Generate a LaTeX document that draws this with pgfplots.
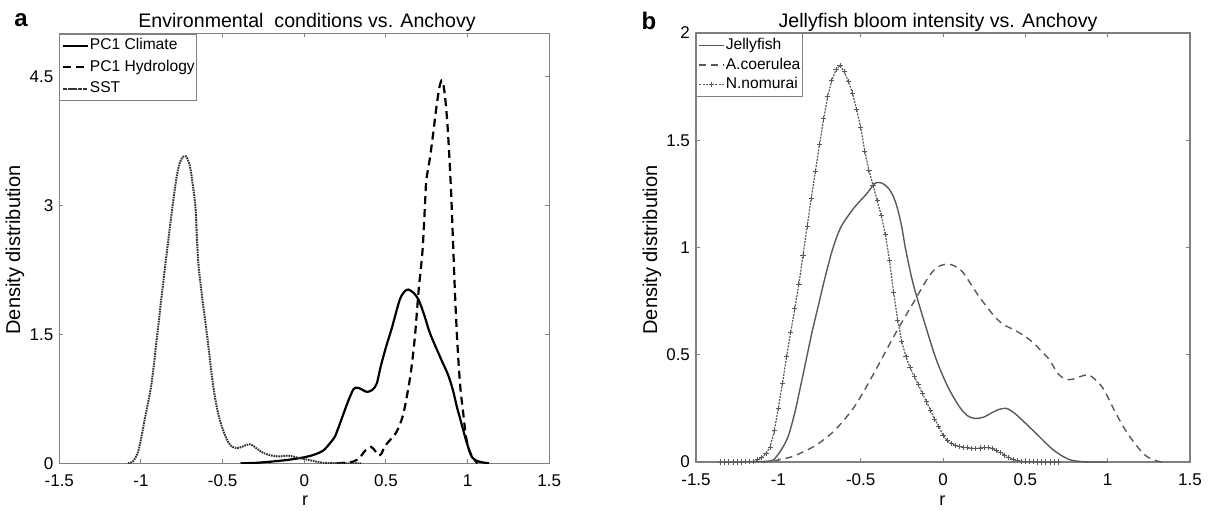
\documentclass[border=0pt]{standalone}
\usepackage{fontspec}
\setmainfont{Liberation Sans}
\usepackage{pgfplots}
\pgfplotsset{compat=1.18}

\definecolor{axgray}{gray}{0.5}
\definecolor{curvegray}{gray}{0.35}

\pgfplotsset{
  myaxis/.style={
    scale only axis,
    xmin=-1.5, xmax=1.5, ymin=0,
    xtick={-1.5,-1,-0.5,0,0.5,1,1.5},
    tick align=inside,
    major tick length=2pt,
    axis line style={axgray, line width=0.6pt},
    every tick/.style={axgray, line width=0.5pt},
    tick label style={font=\fontsize{8.5}{10}\selectfont},
    /pgf/number format/assume math mode=true,
    xticklabel style={anchor=base, yshift=-11.7pt},
    yticklabel style={xshift=0.5pt},
    scaled ticks=false,
    legend cell align=left,
    legend image code/.code={\draw[mark repeat=2, mark phase=2, #1] plot coordinates {(0pt,0pt) (6.2pt,0pt) (12.4pt,0pt)};},
  },
}

\begin{document}
\begin{tikzpicture}
\useasboundingbox (0,0) rectangle (606.5pt,255pt);

% ---------------- panel a ----------------
\begin{axis}[myaxis,
  at={(29.65pt,23.35pt)}, anchor=south west,
  width=245pt, height=215pt,
  ymax=5, ytick={0,1.5,3,4.5},
  legend style={at={(0,1)}, anchor=north west, draw=axgray, line width=0.6pt,
    font=\fontsize{7.8}{9}\selectfont, inner xsep=1pt, inner ysep=2pt, row sep=2.9pt,
    column sep=0.5pt,
    nodes={inner sep=0pt, text height=6pt, text depth=1.8pt}},
]
\addplot[black, line width=1.1pt, smooth] coordinates {
(-0.39,0) (-0.3,0.005) (-0.2,0.02) (-0.1,0.04) (0,0.07) (0.06,0.1) (0.117,0.15)
(0.16,0.24) (0.187,0.31) (0.21,0.42) (0.233,0.54) (0.27,0.73) (0.30,0.86) (0.314,0.88)
(0.34,0.87) (0.385,0.83) (0.42,0.86) (0.444,0.93) (0.467,1.12) (0.50,1.35) (0.537,1.58)
(0.584,1.9) (0.615,2.0) (0.638,2.02) (0.67,1.98) (0.70,1.9) (0.735,1.72) (0.77,1.51)
(0.84,1.2) (0.88,1.03) (0.91,0.85) (0.935,0.65) (0.957,0.5) (0.99,0.27) (1.027,0.07)
(1.07,0.02) (1.13,0)};
\addlegendentry{PC1 Climate}
\addplot[black, line width=1.1pt, dash pattern=on 4pt off 2.5pt, smooth] coordinates {
(0.2,0) (0.3,0.02) (0.34,0.07) (0.374,0.15) (0.41,0.19) (0.435,0.14) (0.457,0.09)
(0.475,0.12) (0.49,0.19) (0.52,0.26) (0.56,0.35) (0.585,0.45) (0.607,0.58) (0.63,0.8)
(0.654,1.08) (0.677,1.47) (0.70,2.01) (0.724,2.48) (0.74,3.05) (0.747,3.29) (0.77,3.56)
(0.79,3.85) (0.806,4.1) (0.825,4.35) (0.84,4.45) (0.852,4.4) (0.864,4.22) (0.876,3.95)
(0.887,3.6) (0.90,3.1) (0.91,2.6) (0.922,2.0) (0.934,1.51) (0.945,1.15) (0.957,0.85)
(0.975,0.55) (0.99,0.31) (1.01,0.15) (1.03,0.07) (1.06,0)};
\addlegendentry{PC1 Hydrology}
\addplot[black!80, line width=1pt, dash pattern=on 0.8pt off 0.45pt, smooth] coordinates {
(-1.08,0) (-1.05,0.02) (-1.02,0.12) (-1.0,0.28) (-0.97,0.58) (-0.935,0.93) (-0.9,1.5)
(-0.87,2.0) (-0.84,2.48) (-0.806,3.0) (-0.78,3.35) (-0.755,3.53) (-0.725,3.57)
(-0.70,3.45) (-0.68,3.2) (-0.665,2.95) (-0.657,2.6) (-0.645,2.25) (-0.62,1.85)
(-0.596,1.5) (-0.56,0.93) (-0.53,0.6) (-0.5,0.4) (-0.467,0.25) (-0.44,0.19) (-0.40,0.18)
(-0.36,0.21) (-0.327,0.22) (-0.29,0.17) (-0.25,0.12) (-0.2,0.09) (-0.15,0.08) (-0.1,0.09)
(-0.05,0.07) (0,0.05) (0.05,0.03) (0.1,0.01) (0.15,0.002) (0.25,0) (0.35,0)};
\addlegendentry{SST}
\end{axis}

% ---------------- panel b ----------------
\begin{axis}[myaxis,
  at={(348pt,24pt)}, anchor=south west,
  width=247pt, height=214.5pt,
  ymax=2, ytick={0,0.5,1,1.5,2},
  legend style={at={(0,1)}, anchor=north west, draw=axgray, line width=0.6pt,
    font=\fontsize{7.8}{9}\selectfont, inner xsep=1pt, inner ysep=2pt, row sep=2pt,
    column sep=0.5pt,
    nodes={inner sep=0pt, text height=6pt, text depth=1.8pt}},
]
\addplot[curvegray, line width=0.7pt, smooth] coordinates {
(-1.15,0) (-1.08,0.003) (-1.03,0.01) (-0.98,0.06) (-0.94,0.12) (-0.90,0.23) (-0.87,0.335)
(-0.83,0.48) (-0.797,0.60) (-0.76,0.72) (-0.726,0.83) (-0.679,0.97) (-0.64,1.06)
(-0.606,1.114) (-0.535,1.19) (-0.464,1.25) (-0.43,1.285) (-0.407,1.302) (-0.37,1.30)
(-0.33,1.275) (-0.30,1.235) (-0.276,1.18) (-0.25,1.095) (-0.229,1.0) (-0.182,0.833) (-0.111,0.647)
(-0.04,0.476) (0.03,0.35) (0.10,0.257) (0.15,0.215) (0.196,0.203) (0.25,0.21) (0.29,0.227)
(0.34,0.245) (0.385,0.25) (0.43,0.23) (0.48,0.196) (0.575,0.126) (0.67,0.056)
(0.765,0.012) (0.86,0.001) (1.0,0)};
\addlegendentry{Jellyfish}
\addplot[curvegray, line width=0.7pt, dash pattern=on 3.5pt off 2.5pt, smooth] coordinates {
(-1.1,0) (-1.03,0.005) (-0.95,0.018) (-0.889,0.033) (-0.77,0.079) (-0.656,0.149)
(-0.538,0.258) (-0.42,0.413) (-0.30,0.584) (-0.182,0.74) (-0.087,0.864) (-0.03,0.91)
(0.03,0.923) (0.08,0.91) (0.125,0.88) (0.22,0.77) (0.315,0.677) (0.37,0.64) (0.434,0.615)
(0.50,0.585) (0.552,0.553) (0.60,0.515) (0.647,0.476) (0.69,0.42) (0.718,0.398)
(0.75,0.385) (0.789,0.386) (0.84,0.40) (0.884,0.406) (0.93,0.38) (0.978,0.336)
(1.05,0.227) (1.12,0.134) (1.215,0.04) (1.28,0.01) (1.33,0)};
\addlegendentry{A.coerulea}
\addplot[curvegray, line width=0.6pt, dash pattern=on 1pt off 0.6pt, mark=+, mark size=1.3pt,
  mark options={solid, line width=0.45pt}] coordinates {
(-1.350,0) (-1.325,0) (-1.300,0) (-1.275,0) (-1.250,0) (-1.225,0) (-1.200,0.001)
(-1.175,0.002) (-1.150,0.004) (-1.125,0.01) (-1.100,0.02) (-1.075,0.04) (-1.050,0.07)
(-1.025,0.145) (-1.000,0.25) (-0.975,0.367) (-0.950,0.49) (-0.925,0.605) (-0.900,0.715)
(-0.875,0.83) (-0.850,0.965) (-0.825,1.10) (-0.800,1.23) (-0.775,1.355) (-0.750,1.48)
(-0.725,1.60) (-0.700,1.705) (-0.675,1.78) (-0.650,1.83) (-0.625,1.848) (-0.600,1.82)
(-0.575,1.775) (-0.550,1.72) (-0.525,1.645) (-0.500,1.56) (-0.475,1.45) (-0.450,1.36)
(-0.425,1.29) (-0.400,1.22) (-0.375,1.15) (-0.350,1.06) (-0.325,0.94) (-0.300,0.79)
(-0.275,0.66) (-0.250,0.56) (-0.225,0.49) (-0.200,0.44) (-0.175,0.40) (-0.150,0.36)
(-0.125,0.32) (-0.100,0.28) (-0.075,0.24) (-0.050,0.20) (-0.025,0.165) (0.000,0.125)
(0.025,0.10) (0.050,0.085) (0.075,0.077) (0.100,0.072) (0.125,0.069) (0.150,0.066)
(0.175,0.064) (0.200,0.064) (0.225,0.065) (0.250,0.066) (0.275,0.066) (0.300,0.062)
(0.325,0.053) (0.350,0.043) (0.375,0.032) (0.400,0.022) (0.425,0.012) (0.450,0.006)
(0.475,0.003) (0.500,0.002) (0.525,0.001) (0.550,0.001) (0.575,0) (0.600,0) (0.625,0)
(0.650,0) (0.675,0) (0.700,0)};
\addlegendentry{N.nomurai}
\end{axis}

% ---------------- texts ----------------
\node[font=\fontsize{9.8}{11}\selectfont] at (153.5pt,244pt) {Environmental\ \ conditions vs. Anchovy};
\node[font=\fontsize{9.8}{11}\selectfont] at (469pt,244pt) {Jellyfish bloom intensity vs. Anchovy};
\node[font=\bfseries\fontsize{12}{13}\selectfont] at (10.5pt,245pt) {a};
\node[font=\bfseries\fontsize{12}{13}\selectfont] at (324.5pt,244.5pt) {b};
\node[rotate=90, font=\fontsize{10}{12}\selectfont] at (7.5pt,130pt) {Density distribution};
\node[rotate=90, font=\fontsize{10}{12}\selectfont] at (326pt,130pt) {Density distribution};
\node[font=\fontsize{9}{11}\selectfont] at (152.5pt,4.5pt) {r};
\node[font=\fontsize{9}{11}\selectfont] at (471.2pt,4.5pt) {r};
\end{tikzpicture}
\end{document}
